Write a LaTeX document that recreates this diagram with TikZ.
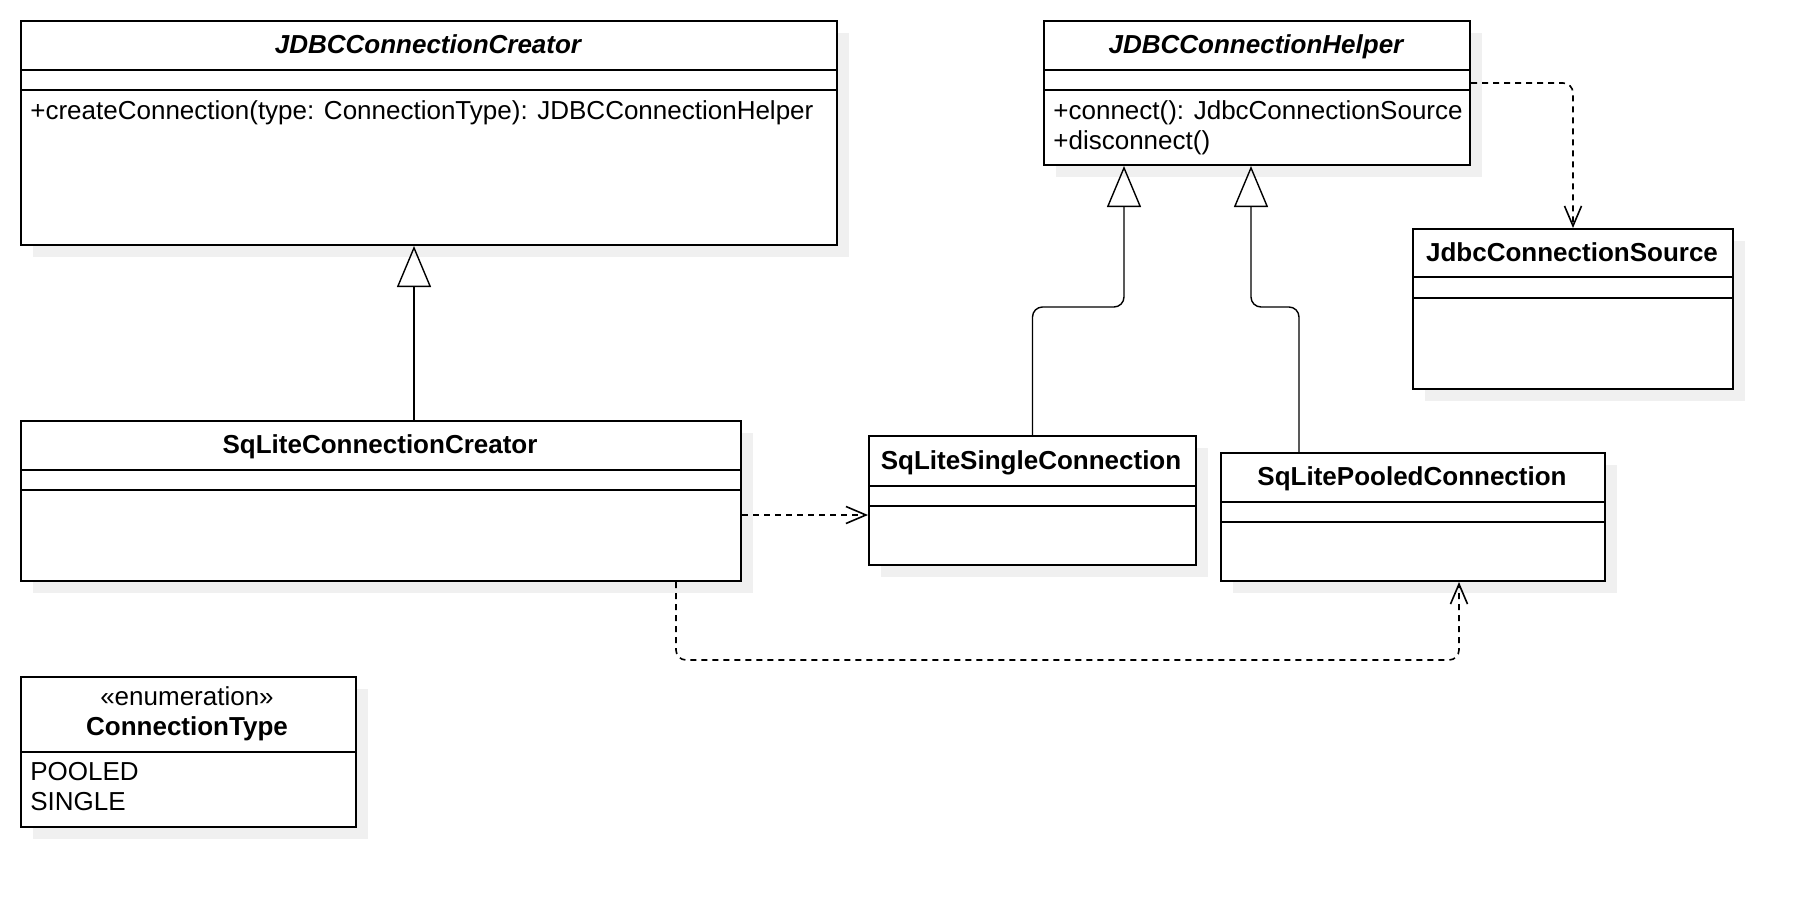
\documentclass[tikz,border=0pt]{standalone}
\usepackage{fontspec}
\setmainfont{Liberation Sans}
\usetikzlibrary{arrows.meta,shadows,calc}

% one UML class: box plus its compartment lines
\newcommand{\umlclass}[6]{%
  \node[classbox, minimum width=#4*0.5pt, minimum height=#5*0.5pt] (#1) at (#2,#3) {};
  \foreach \s in {#6}
    \draw[line width=1pt] ($(#1.north west)+(0,\s)$) -- ($(#1.north east)+(0,\s)$);
}

\begin{document}
\begin{tikzpicture}[x=0.5pt,y=-0.5pt,
    font=\fontsize{13}{15}\selectfont,
    classbox/.style={draw, line width=1pt, fill=white, anchor=north west, inner sep=0pt,
      drop shadow={shadow xshift=6pt, shadow yshift=-6pt, fill=black!6, opacity=1}},
    classname/.style={font=\fontsize{13}{15}\selectfont\bfseries, inner sep=0pt, text height=9.5pt, text depth=2.5pt},
    member/.style={anchor=west, inner sep=0pt, text height=9.5pt, text depth=2.5pt},
    inherit/.style={line width=0.7pt, -{Triangle[open, length=20.5pt, width=17pt]}},
    depends/.style={line width=0.8pt, dash pattern=on 3pt off 2.5pt, -{Straight Barb[length=10pt, width=8.5pt]}}]
    \useasboundingbox (0,0) rectangle (1812,906);

    % classes
    \umlclass{creator}{20}{20}{816}{224}{50,70}
    \node[classname, font=\fontsize{13}{15}\selectfont\bfseries\itshape] (creatorname) at (428,46) {JDBCConnectionCreator};
    \node[member] (creatorop) at (30,112) {+createConnection(type: ConnectionType): JDBCConnectionHelper};

    \umlclass{helper}{1043}{20}{426}{144}{50,70}
    \node[classname, font=\fontsize{13}{15}\selectfont\bfseries\itshape] (helpername) at (1256,46) {JDBCConnectionHelper};
    \node[member] (helperop1) at (1053,112) {+connect(): JdbcConnectionSource};
    \node[member] (helperop2) at (1053,142) {+disconnect()};

    \umlclass{source}{1412}{228}{320}{160}{49,70}
    \node[classname] (sourcename) at (1572,254) {JdbcConnectionSource};

    \umlclass{sqcreator}{20}{420}{720}{160}{50,70}
    \node[classname] (sqcreatorname) at (380,446) {SqLiteConnectionCreator};

    \umlclass{single}{868}{435}{327}{129}{51,71}
    \node[classname] (singlename) at (1031,462) {SqLiteSingleConnection};

    \umlclass{pooled}{1220}{452}{384}{128}{50,70}
    \node[classname] (pooledname) at (1412,478) {SqLitePooledConnection};

    \umlclass{conntype}{20}{676}{335}{150}{76}
    \node[inner sep=0pt, text height=9.5pt, text depth=2.5pt] (stereo) at (187,698) {«enumeration»};
    \node[classname] (conntypename) at (187,728) {ConnectionType};
    \node[member] (lit1) at (30,773) {POOLED};
    \node[member] (lit2) at (30,803) {SINGLE};

    % bend points
    \coordinate (g1) at (414,0);
    \coordinate (k1) at (1124,307);
    \coordinate (k2) at (1251,307);
    \coordinate (k3) at (1299,0);
    \coordinate (d1) at (0,83);
    \coordinate (d2) at (0,515);
    \coordinate (d3) at (676,0);
    \coordinate (d4) at (1459,660);

    % generalizations
    \draw[inherit] (sqcreator.north -| g1) -- (creator.south -| g1);
    \draw[inherit, rounded corners=5pt] (single.north) |- (k1) -- (helper.south -| k1);
    \draw[inherit, rounded corners=5pt] (pooled.north -| k3) |- (k2) -- (helper.south -| k2);

    % dependencies
    \draw[depends, rounded corners=5pt] (helper.east |- d1) -| (source.north);
    \draw[depends] (sqcreator.east |- d2) -- (single.west |- d2);
    \draw[depends, rounded corners=5pt] (sqcreator.south -| d3) |- (d4) -- (pooled.south -| d4);
\end{tikzpicture}
\end{document}
